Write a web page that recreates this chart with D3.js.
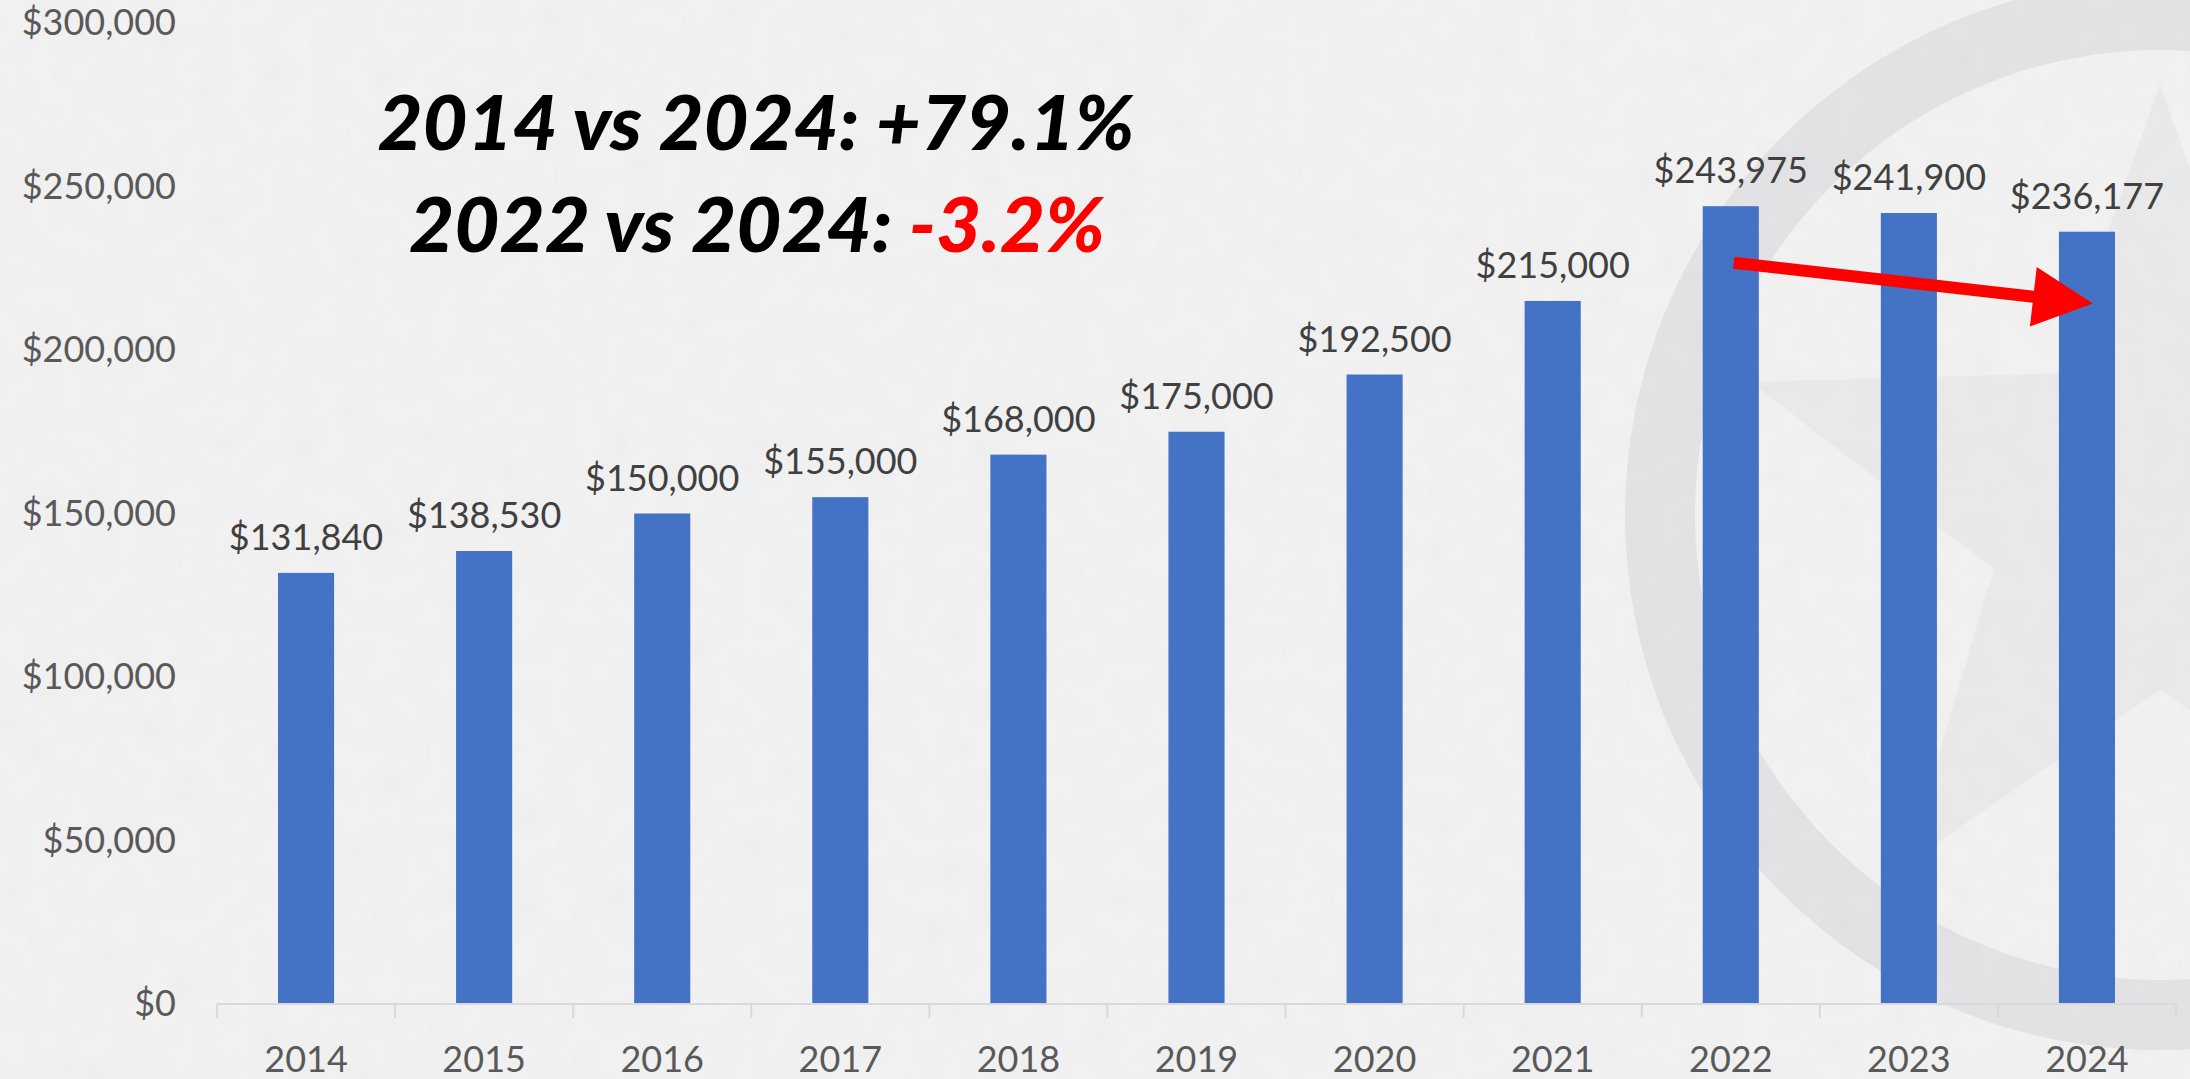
<!DOCTYPE html>
<html>
<head>
<meta charset="utf-8">
<script src="https://cdn.jsdelivr.net/npm/d3@7"></script>
<style>
  html, body { margin: 0; padding: 0; background: #f2f2f2; overflow: hidden; }
  text { font-family: Lato, "Open Sans", sans-serif; }
</style>
</head>
<body>
<div id="chart"></div>
<script>
// DATA
const years = ["2014", "2015", "2016", "2017", "2018", "2019", "2020", "2021", "2022", "2023", "2024"];
const prices = [131840, 138530, 150000, 155000, 168000, 175000, 192500, 215000, 243975, 241900, 236177];
const yTicks = [0, 50000, 100000, 150000, 200000, 250000, 300000];

// SIZES
const W = 2190, H = 1079;
const margin = { top: 23, right: 14, bottom: 75, left: 217 };
const width = W - margin.left - margin.right;
const height = H - margin.top - margin.bottom;

const svg = d3.select("#chart").append("svg")
    .attr("width", W)
    .attr("height", H);

// background with a light paper texture
const defs = svg.append("defs");
const noise = defs.append("filter").attr("id", "paper")
    .attr("x", 0).attr("y", 0).attr("width", "100%").attr("height", "100%");
noise.append("feTurbulence")
    .attr("type", "fractalNoise")
    .attr("baseFrequency", 0.035)
    .attr("numOctaves", 3)
    .attr("seed", 4);
noise.append("feColorMatrix")
    .attr("values", "0 0 0 0 0.5  0 0 0 0 0.5  0 0 0 0 0.5  0 0 0 0.1 0");

svg.append("rect").attr("width", W).attr("height", H).attr("fill", "#f3f3f3");

// watermark logo (faint ring + star) on the right
const wm = svg.append("g").attr("transform", "translate(2160,515)");
const star = d3.range(10).map(i => {
    const r = i % 2 === 0 ? 430 : 175;
    const a = -Math.PI / 2 + i * Math.PI / 5;
    return [r * Math.cos(a), r * Math.sin(a)];
});
wm.append("polygon")
    .attr("points", star.map(p => p.join(",")).join(" "))
    .attr("fill", "#ebebec");
wm.append("path")
    .attr("d", d3.arc()({ innerRadius: 465, outerRadius: 535, startAngle: 0, endAngle: 2 * Math.PI }))
    .attr("fill", "#e4e4e6");

svg.append("rect").attr("width", W).attr("height", H).attr("filter", "url(#paper)");

const g = svg.append("g")
    .attr("transform", `translate(${margin.left},${margin.top})`);

// SCALES
const x = d3.scaleBand()
    .domain(years)
    .range([0, width])
    .paddingInner(0.685)
    .paddingOuter(0.3425);

const xCat = d3.scaleBand()
    .domain(years)
    .range([0, width]);

const y = d3.scaleLinear()
    .domain([0, 300000])
    .range([height, 0]);

const money = d3.format("$,");

// Y AXIS LABELS
g.append("g")
    .call(d3.axisLeft(y).tickValues(yTicks).tickFormat(money).tickSize(0).tickPadding(41))
    .call(a => a.select(".domain").remove())
    .selectAll("text")
    .attr("fill", "#595959")
    .style("font-size", "36px")
    .style("font-family", "Lato, 'Open Sans', sans-serif");

// BARS
g.selectAll(".bar")
    .data(years)
    .enter().append("rect")
    .attr("class", "bar")
    .attr("x", d => x(d))
    .attr("y", (d, i) => y(prices[i]))
    .attr("width", x.bandwidth())
    .attr("height", (d, i) => height - y(prices[i]))
    .attr("fill", "#4472C4");

// X AXIS
g.append("line")
    .attr("x1", 0).attr("x2", width)
    .attr("y1", height).attr("y2", height)
    .attr("stroke", "#d9d9d9").attr("stroke-width", 2);

g.selectAll(".xtick")
    .data(years.concat(["end"]))
    .enter().append("line")
    .attr("x1", (d, i) => i < years.length ? xCat(d) : width)
    .attr("x2", (d, i) => i < years.length ? xCat(d) : width)
    .attr("y1", height).attr("y2", height + 14)
    .attr("stroke", "#d9d9d9").attr("stroke-width", 2);

g.append("g")
    .attr("transform", `translate(0,${height})`)
    .call(d3.axisBottom(x).tickSize(0).tickPadding(0))
    .call(a => a.select(".domain").remove())
    .selectAll("text")
    .attr("dy", null)
    .attr("y", 68)
    .attr("fill", "#595959")
    .style("font-size", "36px")
    .style("font-family", "Lato, 'Open Sans', sans-serif");

// DATA LABELS
g.selectAll(".label")
    .data(years)
    .enter().append("text")
    .attr("class", "label")
    .attr("x", d => x(d) + x.bandwidth() / 2)
    .attr("y", (d, i) => y(prices[i]) - 23)
    .attr("text-anchor", "middle")
    .attr("fill", "#404040")
    .style("font-size", "36px")
    .text((d, i) => money(prices[i]));

// ANNOTATION
const pct = f => d3.format(f);
const first = prices[0], peak = prices[years.indexOf("2022")], last = prices[prices.length - 1];
const fmtPct = (v, f) => pct(f)(v).replace("\u2212", "-");

svg.append("text")
    .attr("x", 756).attr("y", 150)
    .attr("text-anchor", "middle")
    .attr("textLength", 757).attr("lengthAdjust", "spacingAndGlyphs")
    .style("font-size", "76px").style("font-weight", "900").style("font-style", "italic")
    .attr("fill", "#000")
    .text(`2014 vs 2024: ${fmtPct(last / first - 1, "+.1%")}`);

const line2 = svg.append("text")
    .attr("x", 757).attr("y", 252)
    .attr("text-anchor", "middle")
    .attr("textLength", 696).attr("lengthAdjust", "spacingAndGlyphs")
    .style("font-size", "76px").style("font-weight", "900").style("font-style", "italic");
line2.append("tspan").attr("fill", "#000").text("2022 vs 2024: ");
line2.append("tspan").attr("fill", "#ff0000").text(fmtPct(last / peak - 1, ".1%"));

// red arrow from 2022 to 2024
const x0 = x("2022") + x.bandwidth() / 2 + 3, y0 = y(226700);
const x1 = x("2024") + x.bandwidth() / 2 + 6, y1 = y(214200);
const len = Math.hypot(x1 - x0, y1 - y0);
const ang = Math.atan2(y1 - y0, x1 - x0) * 180 / Math.PI;
const head = 60, hw = 30, sw = 6;
g.append("polygon")
    .attr("transform", `translate(${x0},${y0}) rotate(${ang})`)
    .attr("points", [
        [0, -sw], [len - head, -sw], [len - head, -hw], [len, 0],
        [len - head, hw], [len - head, sw], [0, sw]
    ].map(p => p.join(",")).join(" "))
    .attr("fill", "#ff0000");
</script>
</body>
</html>
